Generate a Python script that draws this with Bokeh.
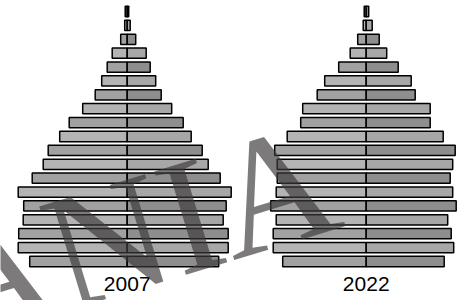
import numpy as np
from bokeh.plotting import figure
from bokeh.models import ColumnDataSource, Range1d, Label
from bokeh.core.properties import value
from bokeh.embed import file_html
from bokeh.resources import INLINE

# ---- data (youngest age group first) ----
age_groups = ["0-4", "5-9", "10-14", "15-19", "20-24", "25-29", "30-34", "35-39",
              "40-44", "45-49", "50-54", "55-59", "60-64", "65-69", "70-74",
              "75-79", "80-84", "85-89", "90+"]
years = ["2007", "2022"]
left_2007 = [97.5, 109, 108.5, 104, 103.5, 109, 95, 84, 79, 67.5, 58, 44.5, 32, 25.5, 20, 15, 6.5, 2.5, 2]
right_2007 = [91.5, 101, 101, 96, 99, 104, 93, 81, 75, 64, 56, 44.5, 34, 28.5, 23, 19, 8.5, 3, 1.5]
left_2022 = [83.5, 93, 93, 90, 95.5, 90, 89, 89, 91.5, 79, 65.5, 63.5, 49, 41.5, 27.5, 16, 8.5, 3, 2]
right_2022 = [78, 87.5, 85, 81.5, 90, 86.5, 84, 86.5, 89, 77, 64, 64, 49, 45, 32, 20.5, 13, 6, 2.5]
watermark = "ROMANIA"

# ---- layout ----
W, H = 461, 300
ROW = 250 / 18                   # px per age row
Y0 = -(H - 261) / ROW            # bottom of y range
Y1 = Y0 + H / ROW
centers = {"2007": 126.7, "2022": 365.7}

p = figure(width=W, height=H, output_backend="svg", toolbar_location=None,
           x_range=Range1d(0, W), y_range=Range1d(Y0, Y1), min_border=0)
p.axis.visible = False
p.grid.visible = False
p.outline_line_color = None
p.background_fill_color = "white"
p.border_fill_color = "white"

light_l, light_r = "#b4b4b4", "#a7a7a7"
dark_l, dark_r = "#a1a1a1", "#8e8e8e"

def py2data(py):
    return Y1 - py / ROW

for yr, L, R in [("2007", left_2007, right_2007), ("2022", left_2022, right_2022)]:
    c = centers[yr]
    idx = np.arange(len(age_groups))
    L = np.array(L); R = np.array(R)
    col_l = [dark_l if i % 2 == 0 else light_l for i in idx]
    col_r = [dark_r if i % 2 == 0 else light_r for i in idx]
    src_l = ColumnDataSource(dict(y=idx, left=c - L, right=np.full(len(L), c), color=col_l))
    src_r = ColumnDataSource(dict(y=idx, left=np.full(len(R), c), right=c + R, color=col_r))
    p.hbar(y="y", left="left", right="right", height=0.74, fill_color="color",
           line_color="black", line_width=1.5, source=src_l)
    p.hbar(y="y", left="left", right="right", height=0.74, fill_color="color",
           line_color="black", line_width=1.5, source=src_r)
    p.text(x=[c], y=[py2data(283)], text=[yr], text_align="center", text_baseline="middle",
           text_font=value("Liberation Sans"), text_font_size="21px", text_color="black")

# watermark (diagonal, semi-transparent)
wm = Label(x=330, y=py2data(172), text=watermark, angle=np.deg2rad(17),
           text_font="Liberation Serif", text_font_size="165px",
           text_color="#3c3838", text_alpha=0.67, text_align="right",
           text_baseline="alphabetic")
p.add_layout(wm)

open("out.html", "w").write(file_html(p, INLINE))
